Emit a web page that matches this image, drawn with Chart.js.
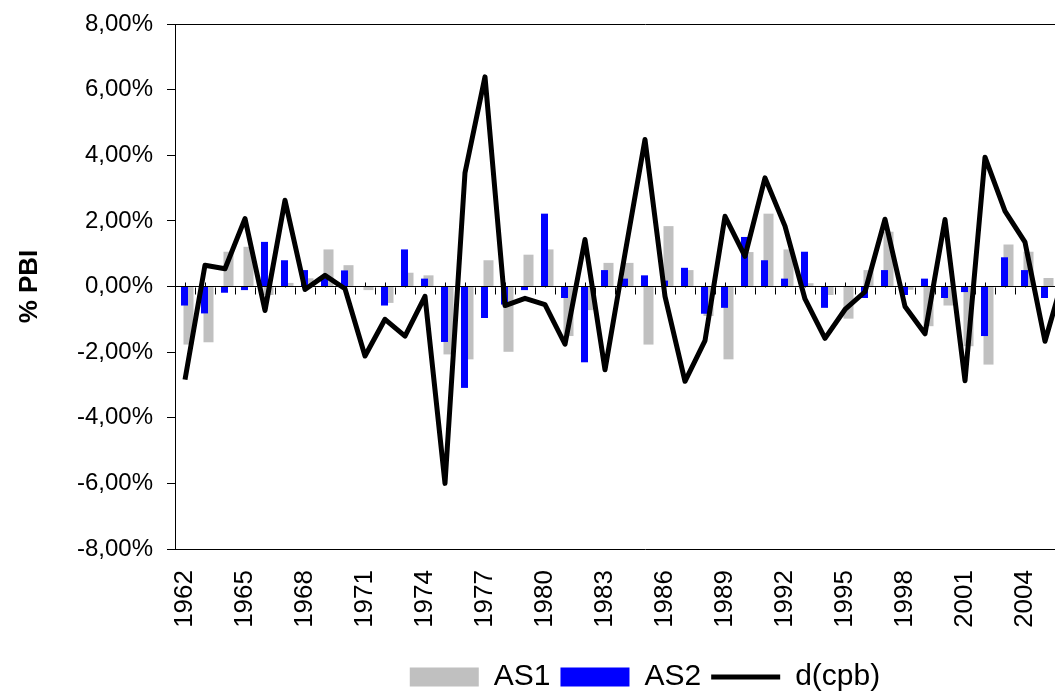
<!DOCTYPE html>
<html>
<head>
<meta charset="utf-8">
<script src="https://cdn.jsdelivr.net/npm/chart.js@4"></script>
<style>
html, body { margin: 0; padding: 0; overflow: hidden; background: #fff; }
canvas { display: block; }
</style>
</head>
<body>
<canvas id="c" width="1120" height="702"></canvas>
<script>
// years shown on the category axis (the picture is cut off after 2005)
const years = ['1962','1963','1964','1965','1966','1967','1968','1969','1970','1971',
  '1972','1973','1974','1975','1976','1977','1978','1979','1980','1981',
  '1982','1983','1984','1985','1986','1987','1988','1989','1990','1991',
  '1992','1993','1994','1995','1996','1997','1998','1999','2000','2001',
  '2002','2003','2004','2005','2006','2007','2008'];
const tickYears = ['1962','1965','1968','1971','1974','1977','1980','1983','1986',
  '1989','1992','1995','1998','2001','2004','2007'];

// % of PBI
const as1 = [-1.77, -1.70, 1.06, 1.21, -0.26, 0.11, 0.25, 1.13, 0.65, -0.11,
  -0.50, 0.42, 0.34, -2.07, -2.22, 0.80, -1.99, 0.97, 1.13, -1.51,
  -0.72, 0.72, 0.72, -1.77, 1.84, 0.50, -0.90, -2.22, 1.05, 2.22,
  1.13, 0.10, -0.26, -0.98, 0.50, 1.67, -0.10, -1.21, -0.58, -1.82,
  -2.38, 1.28, 1.06, 0.26, null, null, null];
const as2 = [-0.58, -0.82, -0.19, -0.11, 1.36, 0.80, 0.50, 0.25, 0.49, 0,
  -0.58, 1.13, 0.24, -1.69, -3.09, -0.96, -0.55, -0.11, 2.22, -0.35,
  -2.31, 0.50, 0.24, 0.34, 0.18, 0.57, -0.83, -0.65, 1.51, 0.80,
  0.24, 1.06, -0.65, 0, -0.35, 0.50, -0.26, 0.24, -0.35, -0.17,
  -1.51, 0.89, 0.50, -0.35, null, null, null];
const dcpb = [-2.84, 0.65, 0.54, 2.07, -0.73, 2.63, -0.09, 0.34, -0.07, -2.12,
  -1.00, -1.51, -0.30, -6.00, 3.47, 6.39, -0.58, -0.36, -0.55, -1.76,
  1.43, -2.54, 1.00, 4.48, -0.30, -2.89, -1.65, 2.14, 0.92, 3.31,
  1.84, -0.38, -1.58, -0.70, -0.16, 2.05, -0.61, -1.44, 2.04, -2.87,
  3.94, 2.30, 1.35, -1.67, 0.45, null, null];

Chart.defaults.font.family = '"Liberation Sans", Arial, sans-serif';
Chart.defaults.color = '#000';

// small tick marks on the zero line: below at category borders, above at centres
const zeroTicks = {
  id: 'zeroTicks',
  beforeDatasetsDraw(chart) {
    const {ctx, scales: {x, y}} = chart;
    const y0 = Math.round(y.getPixelForValue(0)) + 0.5;
    const half = (x.getPixelForValue(1) - x.getPixelForValue(0)) / 2;
    ctx.save();
    ctx.strokeStyle = '#000';
    ctx.lineWidth = 1;
    ctx.beginPath();
    for (let i = 0; i < years.length; i++) {
      const c = Math.round(x.getPixelForValue(i)) + 0.5;
      const b = Math.round(x.getPixelForValue(i) + half) + 0.5;
      ctx.moveTo(c, y0 - 5); ctx.lineTo(c, y0);
      ctx.moveTo(b, y0); ctx.lineTo(b, y0 + 7);
    }
    ctx.stroke();
    ctx.restore();
  }
};

new Chart(document.getElementById('c'), {
  type: 'bar',
  data: {
    labels: years,
    datasets: [
      {
        label: 'AS1',
        data: as1,
        backgroundColor: '#C0C0C0',
        borderColor: '#C0C0C0',
        borderWidth: 0,
        categoryPercentage: 0.7,
        barPercentage: 1.43,
        pointStyle: 'rect',
        order: 3
      },
      {
        label: 'AS2',
        data: as2,
        backgroundColor: '#0000FF',
        borderColor: '#0000FF',
        borderWidth: 0,
        categoryPercentage: 0.1,
        barPercentage: 7,
        pointStyle: 'rect',
        order: 2
      },
      {
        type: 'line',
        label: 'd(cpb)',
        data: dcpb,
        borderColor: '#000',
        backgroundColor: '#000',
        borderWidth: 5,
        borderJoinStyle: 'round',
        pointRadius: 0,
        pointStyle: 'line',
        tension: 0,
        order: 1
      }
    ]
  },
  options: {
    responsive: false,
    animation: false,
    layout: { padding: { left: 14, top: 24, right: 5, bottom: 0 } },
    plugins: {
      tooltip: { enabled: false },
      legend: {
        position: 'bottom',
        fullSize: false,
        labels: {
          font: { size: 30 },
          usePointStyle: true,
          pointStyleWidth: 69,
          boxHeight: 19,
          padding: 10,
          sort: (a, b) => a.datasetIndex - b.datasetIndex
        }
      }
    },
    scales: {
      x: {
        grid: { display: false, drawTicks: false },
        border: { display: false },
        ticks: {
          autoSkip: false,
          minRotation: 90,
          maxRotation: 90,
          padding: 21,
          font: { size: 26 },
          callback: (v, i) => tickYears.includes(years[i]) ? years[i] : ''
        },
        afterFit: s => { s.height = 103; s.paddingLeft = 0; s.paddingRight = 0; }
      },
      y: {
        min: -8,
        max: 8,
        ticks: {
          stepSize: 2,
          padding: 14,
          font: { size: 24 },
          callback: v => v.toFixed(2).replace('.', ',') + '%'
        },
        grid: {
          color: c => [8, 0, -8].includes(c.tick.value) ? '#000' : 'rgba(0,0,0,0)',
          tickColor: '#000',
          tickLength: 8,
          lineWidth: 1
        },
        border: { display: true, color: '#000', width: 1 },
        title: {
          display: true,
          text: '% PBI',
          font: { size: 26, weight: 'bold' },
          padding: { top: 0, bottom: 0 }
        },
        afterFit: s => { s.width = 161; s.paddingTop = 0; s.paddingBottom = 0; }
      }
    }
  },
  plugins: [zeroTicks]
});
</script>
</body>
</html>
